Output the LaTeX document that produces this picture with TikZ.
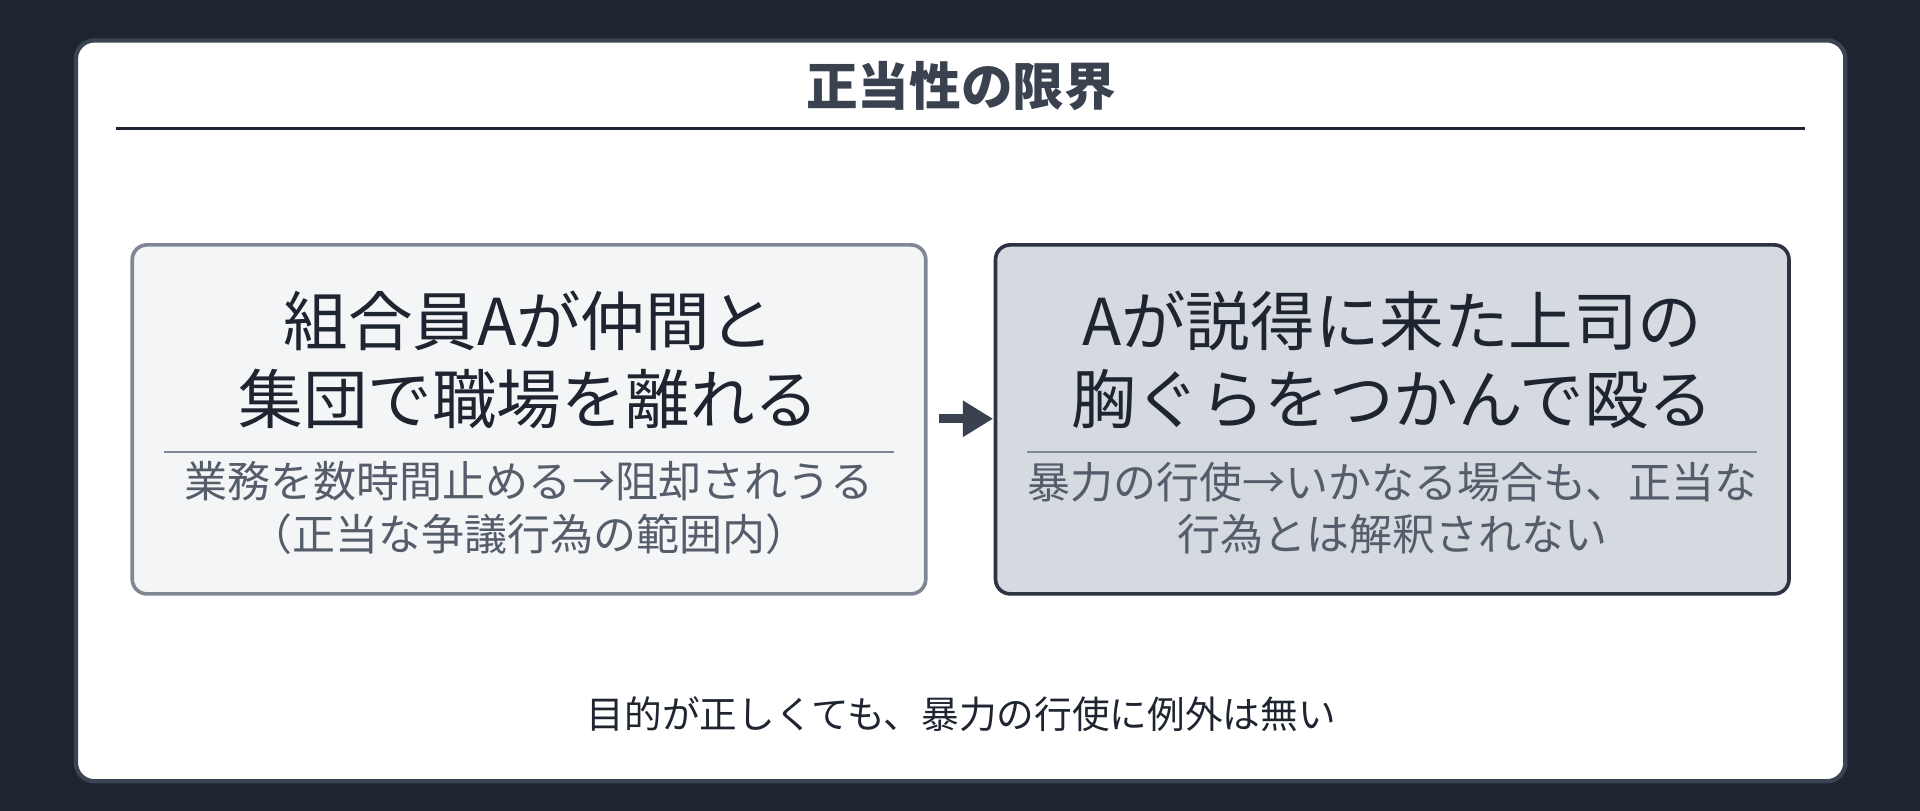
\documentclass[tikz,border=0pt]{standalone}
\usepackage{fontspec}
\setmainfont{Noto Sans CJK JP}
\usetikzlibrary{arrows.meta}
\definecolor{bgdark}{HTML}{1E2530}
\definecolor{cardedge}{HTML}{3B4452}
\definecolor{ink}{HTML}{3A4250}
\definecolor{dark}{HTML}{1F2530}
\definecolor{subink}{HTML}{555D6A}
\definecolor{lfill}{HTML}{F4F5F7}
\definecolor{ledge}{HTML}{7F8795}
\definecolor{rfill}{HTML}{D5D9E0}
\definecolor{redge}{HTML}{2D3340}
\begin{document}
\begin{tikzpicture}[x=0.02cm,y=-0.02cm,
  box/.style={rounded corners=0.24cm,line width=1.7pt},
  main/.style={align=center,font=\fontsize{30}{36}\selectfont,text=dark},
  sub/.style={align=center,font=\fontsize{20}{24.5}\selectfont,text=subink},
  sep/.style={line width=0.9pt}]
\fill[bgdark] (0,0) rectangle (1568,662);
\useasboundingbox (0,0) rectangle (1568,662);
\draw[fill=white,draw=cardedge,line width=2pt,rounded corners=0.3cm] (62,33) rectangle (1507,638);
\node[font=\bfseries\fontsize{24}{28}\selectfont,text=ink] (title) at (785,70) {正当性の限界};
\draw[dark,line width=1pt] (95,105) -- (1474,105);
% left
\draw[box,fill=lfill,draw=ledge] (108,200) rectangle (756,485);
\node[main] (lmain) at (432,294) {組合員Aが仲間と\\集団で職場を離れる};
\draw[sep,ledge] (134,369) -- (730,369);
\node[sub] (lsub) at (432,415) {業務を数時間止める→阻却されうる\\（正当な争議行為の範囲内）};
% right
\draw[box,fill=rfill,draw=redge] (813,200) rectangle (1461,485);
\node[main] (rmain) at (1137,294) {Aが説得に来た上司の\\胸ぐらをつかんで殴る};
\draw[sep,ledge] (839,369) -- (1435,369);
\node[sub] (rsub) at (1137,415) {暴力の行使→いかなる場合も、正当な\\行為とは解釈されない};
\coordinate (a1) at (767,342);
\coordinate (a2) at (811,342);
\draw[ink,line width=4pt,-{Triangle[length=14pt,width=16pt]}] (a1) -- (a2);
\node[font=\fontsize{17.5}{21}\selectfont,text=dark] (foot) at (785,583) {目的が正しくても、暴力の行使に例外は無い};
\end{tikzpicture}
\end{document}
